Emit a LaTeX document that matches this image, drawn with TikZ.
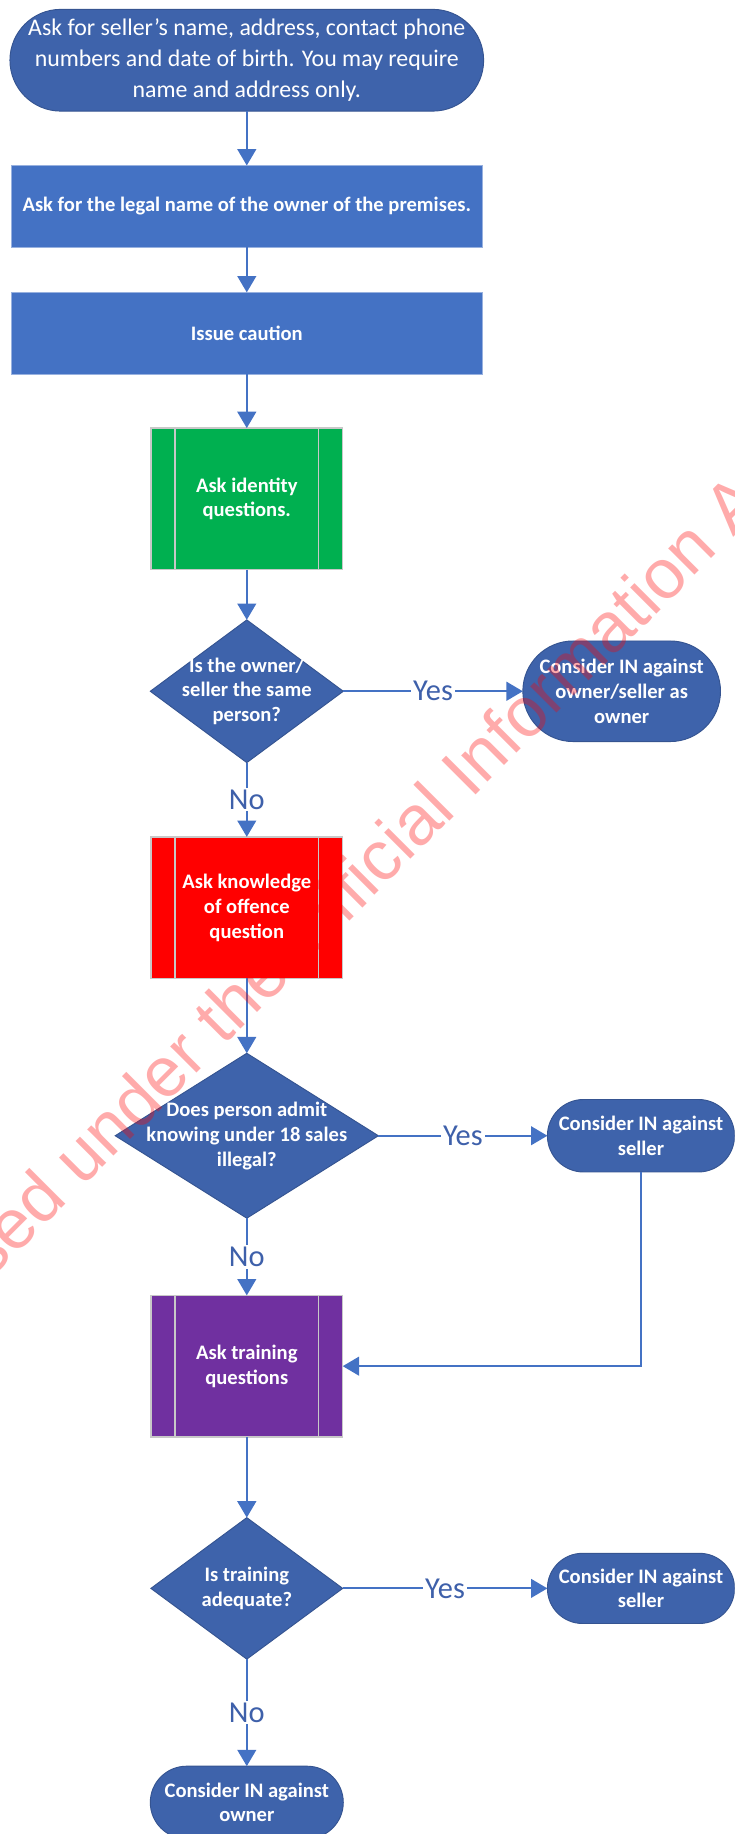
\documentclass[tikz,border=0pt]{standalone}
\usepackage{fontspec}
\setmainfont{Carlito}
\newfontfamily\wmfont{Liberation Sans}
\usetikzlibrary{shapes.geometric,arrows.meta}
\definecolor{termblue}{RGB}{62,99,171}
\definecolor{rectblue}{RGB}{68,114,196}
\definecolor{linkblue}{RGB}{68,114,196}
\definecolor{lblblue}{RGB}{62,96,170}
\definecolor{ppgreen}{RGB}{0,176,80}
\definecolor{ppred}{RGB}{255,0,0}
\definecolor{pppurple}{RGB}{112,48,160}
\definecolor{ppline}{RGB}{200,200,200}
\definecolor{wmred}{RGB}{255,0,0}
\begin{document}
\begin{tikzpicture}[x=0.5pt,y=-0.5pt,
  every node/.style={inner sep=0pt, outer sep=0pt},
  boxtext/.style={text=white, font=\fontsize{8.8}{10.6}\selectfont\bfseries, align=center},
  termbox/.style={boxtext, fill=termblue, draw=termblue!85!black, line width=0.4pt, rounded corners=#1},
  rectbox/.style={boxtext, fill=rectblue, draw=rectblue!55!white, line width=0.5pt, minimum width=201.5pt, minimum height=35pt},
  ppbox/.style={boxtext, fill=#1, draw=ppline, line width=0.6pt, minimum width=82pt, minimum height=60.5pt},
  ppinner/.style={draw=ppline, line width=0.6pt},
  diam/.style={diamond, fill=termblue, draw=termblue!85!black, line width=0.4pt},
  link/.style={draw=linkblue, line width=0.9pt, -{Triangle[width=8pt,length=7pt]}},
  lbl/.style={fill=white, text=lblblue, font=\fontsize{13}{15}\selectfont, inner sep=0.8pt},
  wm/.style={font=\wmfont\fontsize{30}{32}\selectfont, text=wmred, text opacity=0.33, rotate=45, anchor=base west}
]
\useasboundingbox (0,0) rectangle (628,1568);
\clip (0,0) rectangle (628,1568);

% main column
\node[termbox=21.75pt, minimum width=202.5pt, minimum height=43.5pt, font=\fontsize{10.2}{13.25}\selectfont] (t1) at (211,51.5)
  {Ask for seller’s name, address, contact phone\\numbers and date of birth. You may require\\name and address only.};
\node[rectbox] (r2) at (211,176.5) {Ask for the legal name of the owner of the premises.};
\node[rectbox] (r3) at (211,285) {Issue caution};
\node[ppbox=ppgreen] (g) at (211,426.5) {Ask identity\\questions.};
\node[diam, minimum width=82.5pt, minimum height=61pt,
  label={[boxtext]center:Is the owner/\\seller the same\\person?}] (d1) at (211,591) {};
\node[termbox=21.5pt, minimum width=84.5pt, minimum height=43pt] (t2) at (531.5,591)
  {Consider IN against\\owner/seller as\\owner};
\node[ppbox=ppred] (red) at (211,776) {Ask knowledge\\of offence\\question};
\node[diam, minimum width=112.5pt, minimum height=70.5pt,
  label={[boxtext]center:Does person admit\\knowing under 18 sales\\illegal?}] (d2) at (211,971) {};
\node[termbox=15.5pt, minimum width=80pt, minimum height=31pt] (t3) at (548,971)
  {Consider IN against\\seller};
\node[ppbox=pppurple] (pur) at (211,1168) {Ask training\\questions};
\node[diam, minimum width=82pt, minimum height=60.5pt,
  label={[boxtext]center:Is training\\adequate?}] (d3) at (211,1358) {};
\node[termbox=15pt, minimum width=80pt, minimum height=30pt] (t4) at (548,1358)
  {Consider IN against\\seller};
\node[termbox=15.5pt, minimum width=82.5pt, minimum height=31pt] (t5) at (211,1541)
  {Consider IN against\\owner};

% predefined-process inner bars
\foreach \b in {g,red,pur}{
  \draw[ppinner] ([xshift=10.3pt]\b.north west) -- ([xshift=10.3pt]\b.south west);
  \draw[ppinner] ([xshift=-10.3pt]\b.north east) -- ([xshift=-10.3pt]\b.south east);
}

% connectors
\draw[link] (t1) -- (r2);
\draw[link] (r2) -- (r3);
\draw[link] (r3) -- (g);
\draw[link] (g) -- (d1);
\draw[link] (d1) -- node[lbl]{Yes} (t2);
\draw[link] (d1) -- node[lbl]{No} (red);
\draw[link] (red) -- (d2);
\draw[link] (d2) -- node[lbl]{Yes} (t3);
\draw[link] (d2) -- node[lbl]{No} (pur);
\draw[link] (t3.south) |- (pur.east);
\draw[link] (pur) -- (d3);
\draw[link] (d3) -- node[lbl]{Yes} (t4);
\draw[link] (d3) -- node[lbl]{No} (t5);

% watermark
\node[wm] (wmark) at (-120,1206) {Released under the Official Information Act};
\end{tikzpicture}
\end{document}
